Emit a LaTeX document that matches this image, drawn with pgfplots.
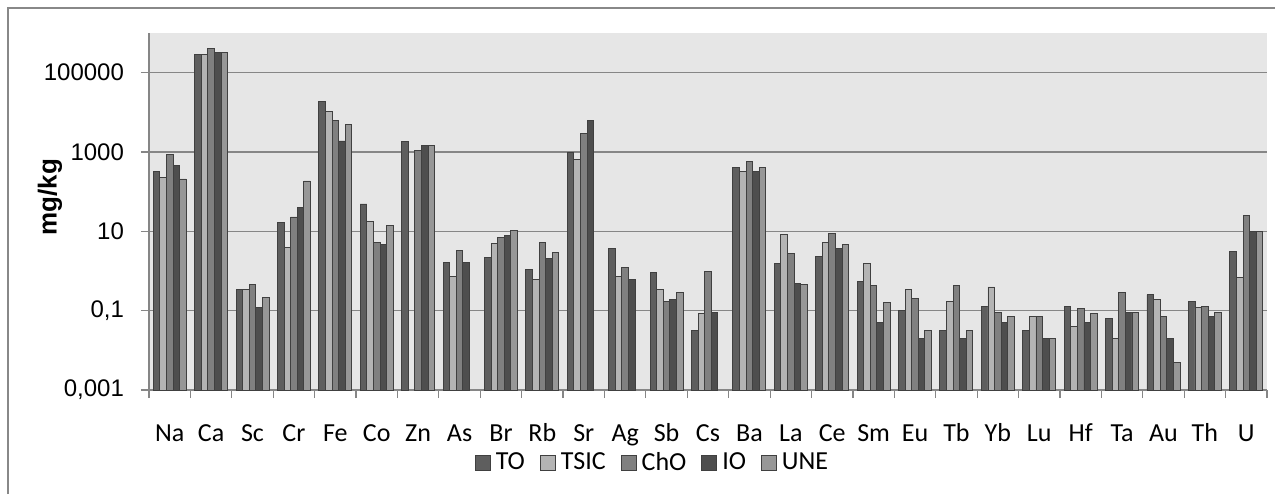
\documentclass[border=0pt]{standalone}
\usepackage{fontspec}
\setmainfont{Carlito}
\newfontfamily\tickfont{Liberation Sans}
\usepackage{pgfplots}
\pgfplotsset{compat=1.18}
\usepackage{pgfplotstable}
\definecolor{cTO}{HTML}{5E5E5E}
\definecolor{cTSIC}{HTML}{B4B4B4}
\definecolor{cChO}{HTML}{808080}
\definecolor{cIO}{HTML}{4E4E4E}
\definecolor{cUNE}{HTML}{979797}
\definecolor{edge}{HTML}{404040}
\definecolor{plotbg}{HTML}{E6E6E6}
\definecolor{gridc}{HTML}{868686}
\definecolor{framec}{HTML}{888888}

% x: 0 Na,1 Ca,2 Sc,3 Cr,4 Fe,5 Co,6 Zn,7 As,8 Br,9 Rb,10 Sr,11 Ag,12 Sb,13 Cs,
% 14 Ba,15 La,16 Ce,17 Sm,18 Eu,19 Tb,20 Yb,21 Lu,22 Hf,23 Ta,24 Au,25 Th,26 U
\pgfplotstableread{
x y
0 331
1 283000
2 0.34
3 16.4
4 19000
5 49
6 1880
7 1.62
8 2.16
9 1.08
10 1000
11 3.64
12 0.91
13 0.0317
14 403
15 1.53
16 2.29
17 0.53
18 0.1
19 0.0317
20 0.127
21 0.0317
22 0.127
23 0.0634
24 0.254
25 0.17
26 3.06
}\tTO
\pgfplotstableread{
x y
0 229
1 280000
2 0.34
3 3.85
4 10700
5 18
7 0.72
8 4.86
9 0.605
10 652
11 0.72
12 0.34
13 0.0847
14 331
15 8.2
16 5.15
17 1.53
18 0.34
19 0.17
20 0.396
21 0.0713
22 0.040
23 0.02
24 0.19
25 0.12
26 0.68
}\tTSIC
\pgfplotstableread{
x y
0 890
1 410000
2 0.45
3 23
4 6300
5 5.15
6 1120
7 3.37
8 6.9
9 5.15
10 2990
11 1.21
12 0.17
13 1.0
14 592
15 2.73
16 8.67
17 0.43
18 0.20
19 0.43
20 0.0897
21 0.0713
22 0.113
23 0.286
24 0.0713
25 0.127
26 24.5
}\tChO
\pgfplotstableread{
x y
0 470
1 320000
2 0.122
3 39
4 1900
5 4.6
6 1500
7 1.62
8 7.9
9 2.04
10 6100
11 0.605
12 0.194
13 0.0897
14 331
15 0.48
16 3.64
17 0.050
18 0.02
19 0.02
20 0.050
21 0.02
22 0.050
23 0.0897
24 0.02
25 0.0713
26 10
}\tIO
\pgfplotstableread{
x y
0 209
1 320000
2 0.214
3 186
4 4900
5 13.8
6 1500
8 10.3
9 2.89
12 0.286
14 418
15 0.45
16 4.6
17 0.16
18 0.0317
19 0.0317
20 0.0713
21 0.02
22 0.083
23 0.0897
24 0.005
25 0.0897
26 9.7
}\tUNE

\begin{document}
\begin{tikzpicture}
\useasboundingbox (0,0) rectangle (637.5pt,247pt);
\draw[framec, line width=1.4pt] (4pt,0) -- (4pt,243pt) -- (637.5pt,243pt);
\begin{axis}[
  at={(74.5pt,52pt)}, anchor=south west,
  scale only axis, width=559pt, height=178.5pt,
  ymode=log, log origin y=infty,
  ymin=0.001, ymax=1000000,
  xmin=-0.5, xmax=26.5,
  axis background/.style={fill=plotbg},
  axis x line*=bottom, axis y line*=left,
  axis line style={gridc, line width=0.6pt},
  ytick={0.001,0.1,10,1000,100000},
  yticklabels={{0,001},{0,1},10,1000,100000},
  yticklabel style={font=\tickfont\fontsize{12}{12}\selectfont, text=black},
  yticklabel shift=5pt,
  ymajorgrids, major grid style={gridc, line width=0.7pt},
  minor y tick style={draw=none},
  xtick={0,...,26},
  xticklabels={Na,Ca,Sc,Cr,Fe,Co,Zn,As,Br,Rb,Sr,Ag,Sb,Cs,Ba,La,Ce,Sm,Eu,Tb,Yb,Lu,Hf,Ta,Au,Th,U},
  xticklabel style={font=\fontsize{13}{13}\selectfont, text=black, text height=9pt, text depth=3pt},
  xticklabel shift=9pt,
  minor xtick={-0.5,0.5,...,26.5},
  major x tick style={draw=none},
  minor x tick style={gridc, line width=0.6pt},
  major y tick style={gridc, line width=0.6pt},
  tick align=outside, major tick length=4pt, minor tick length=4pt,
  ylabel={\bfseries mg/kg},
  ylabel style={font=\tickfont\fontsize{13}{13}\selectfont, at={(axis description cs:-0.0886,0.54)}, anchor=center, rotate=0},
  ybar=0pt, bar width=3.3pt,
  every axis plot/.append style={draw=edge, line width=0.45pt},
  legend columns=5,
  legend style={at={(0.4517,-0.2045)}, anchor=center, draw=none, fill=none,
    font=\fontsize{13}{13}\selectfont, nodes={inner sep=2.5pt},
    /tikz/every even column/.append style={column sep=5pt}},
  legend image code/.code={\draw[#1] (0pt,-3.75pt) rectangle (7.5pt,3.75pt);},
]
\addplot[fill=cTO] table[x=x,y=y] {\tTO};
\addplot[fill=cTSIC] table[x=x,y=y] {\tTSIC};
\addplot[fill=cChO] table[x=x,y=y] {\tChO};
\addplot[fill=cIO] table[x=x,y=y] {\tIO};
\addplot[fill=cUNE] table[x=x,y=y] {\tUNE};
\legend{TO,TSIC,ChO,IO,UNE}
\end{axis}
\end{tikzpicture}
\end{document}
